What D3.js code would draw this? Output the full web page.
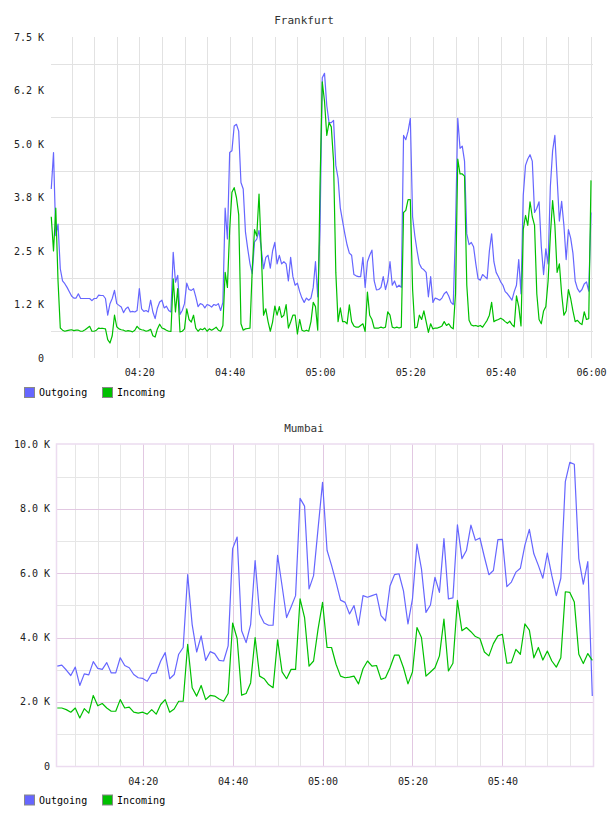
<!DOCTYPE html>
<html>
<head>
<meta charset="utf-8">
<script src="https://cdn.jsdelivr.net/npm/d3@7"></script>
<style>
	body { margin: 0; background: #fff; }
	svg text { font-family: 'DejaVu Sans Mono', monospace; }
</style>
</head>
<body>
<div id="charts"></div>
<script>
// values, one point every 30 s (Frankfurt) / 60 s (Mumbai)
let frankfurtOutgoing = [
	3950, 4800, 2860, 3130, 2085, 1800, 1735, 1650, 1550, 1450,
	1400, 1400, 1500, 1390, 1390, 1390, 1390, 1390, 1340, 1390,
	1390, 1470, 1460, 1460, 1390, 1000, 1270, 1390, 1580, 1270,
	1230, 1190, 1060, 1150, 1190, 1075, 1090, 1075, 1110, 1620,
	1150, 1090, 1110, 1075, 1350, 1075, 920, 1170, 1310, 1350,
	1170, 1210, 1110, 1075, 2470, 1770, 1930, 1020, 1110, 1270,
	1750, 1600, 1580, 1620, 1430, 1200, 1270, 1250, 1170, 1250,
	1230, 1190, 1250, 1230, 1270, 1110, 1300, 3500, 2780, 4800,
	4840, 5420, 5460, 5300, 4100, 3950, 2940, 2550, 2200, 1970,
	2710, 2780, 2980, 2550, 2085, 2350, 2400, 2100, 2500, 2700,
	2200, 2400, 2200, 2250, 2200, 1800, 2350, 1900, 1700, 1750,
	1550, 1400, 1300, 1400, 1350, 1400, 1650, 2250, 1430, 3000,
	6550, 6650, 5900, 5500, 5500, 5550, 4500, 4200, 3500, 3200,
	2900, 2640, 2450, 2400, 1950, 1920, 1900, 1900, 2350, 1650,
	2250, 2400, 2520, 1800, 1590, 1600, 1650, 1900, 1600, 1800,
	2250, 1700, 1800, 1650, 1700, 1650, 5200, 5100, 5300, 5600,
	3300, 2850, 2500, 2200, 2100, 2060, 2000, 1430, 1900, 1300,
	1400, 1380, 1350, 1400, 1500, 1550, 1450, 1300, 1250, 3000,
	5600, 4900, 4950, 4600, 2900, 2650, 2700, 2600, 2200, 1850,
	1820, 1950, 1900, 1850, 2500, 2900, 2250, 2000, 1900, 1780,
	1700, 1550, 1500, 1430, 1350, 1550, 1700, 2300, 1500, 3800,
	4500, 4650, 4750, 4600, 3400, 3500, 3650, 2600, 1950, 2550,
	2200, 4000, 4840, 5200, 4200, 3200, 3660, 3100, 2300, 3000,
	2800, 2450, 1800, 1620, 1540, 1600, 1730, 1780, 1560, 3400
]
let frankfurtIncoming = [
	3300, 2500, 3500, 1800, 700, 650, 625, 640, 650, 660,
	640, 650, 650, 625, 630, 660, 700, 740, 625, 625,
	650, 700, 690, 690, 680, 430, 350, 520, 1000, 730,
	680, 660, 650, 625, 640, 630, 610, 650, 740, 680,
	660, 650, 625, 640, 670, 520, 490, 680, 790, 700,
	680, 650, 625, 620, 1850, 1075, 1620, 610, 625, 680,
	1150, 900, 840, 1000, 700, 625, 680, 660, 700, 625,
	680, 650, 680, 720, 650, 625, 760, 2000, 1650, 3000,
	3870, 3980, 3750, 3350, 800, 650, 680, 690, 700, 2080,
	3000, 2850, 3830, 2500, 1000, 1150, 850, 625, 840, 1215,
	1000, 1200, 950, 1000, 1250, 700, 840, 1000, 1000, 560,
	900, 650, 625, 650, 625, 850, 1300, 1200, 650, 4000,
	6450, 6000, 5200, 5500, 5400, 4600, 2000, 850, 1170, 850,
	850, 800, 1240, 850, 750, 720, 720, 760, 800, 620,
	1540, 1000, 900, 700, 700, 700, 720, 700, 720, 1080,
	1000, 720, 700, 720, 700, 720, 3400, 3450, 3700, 3700,
	1600, 700, 720, 1000, 900, 1100, 850, 600, 800, 680,
	700, 700, 720, 750, 850, 760, 800, 720, 680, 1500,
	4650, 4300, 4300, 4250, 1700, 880, 770, 750, 760, 740,
	760, 720, 800, 880, 1000, 1300, 850, 880, 900, 930,
	900, 850, 810, 860, 780, 730, 1450, 1200, 750, 3000,
	3330, 3100, 3650, 3300, 3100, 1500, 900, 800, 1100, 1200,
	1800, 2860, 3680, 3100, 2000, 2200, 1500, 1000, 1100, 1600,
	1390, 1100, 850, 880, 820, 780, 1080, 900, 920, 4150
]
let mumbaiOutgoing = [
	3110, 3140, 2990, 2820, 3080, 2510, 2870, 2840, 3250, 3040,
	3010, 3220, 2900, 2900, 3370, 3130, 3060, 2850, 2750, 2730,
	2640, 2880, 2900, 3270, 3530, 2720, 2850, 3480, 3690, 5950,
	4400, 3550, 4050, 3290, 3560, 3500, 3290, 3270, 3740, 6760,
	7120, 4210, 3840, 4400, 6390, 4730, 4450, 4380, 4380, 6550,
	5600, 4620, 4950, 5300, 8320, 8080, 5510, 5920, 7380, 8820,
	6710, 6240, 5720, 5160, 5090, 4730, 4990, 4380, 5300, 5250,
	5300, 5350, 4680, 4520, 5600, 5950, 5980, 5450, 4420, 5200,
	6900, 6130, 4780, 5010, 5870, 5400, 7070, 5200, 5230, 7500,
	6450, 6700, 7490, 7020, 7090, 6500, 5950, 6080, 7040, 7050,
	5580, 5720, 6030, 6150, 6860, 7360, 6600, 6240, 5840, 6620,
	5920, 5300, 5840, 8840, 9440, 9380, 6450, 5660, 6360, 2180
]
let mumbaiIncoming = [
	1810, 1810, 1760, 1680, 1810, 1500, 1790, 1650, 2200, 1880,
	1950, 1810, 1710, 1710, 2070, 1810, 1840, 1680, 1650, 1680,
	1620, 1760, 1620, 1920, 2070, 1680, 1780, 2020, 2020, 3790,
	2440, 2180, 2510, 2070, 2200, 2180, 2090, 2020, 2260, 4450,
	3970, 2210, 2260, 2590, 4000, 2800, 2720, 2540, 2440, 3930,
	2930, 2720, 3010, 3010, 5200, 4620, 3110, 3270, 4260, 5090,
	3690, 3690, 3170, 2800, 2750, 2770, 2800, 2560, 3030, 3270,
	3110, 3130, 2700, 2750, 3060, 3450, 3450, 3060, 2560, 2930,
	4310, 4000, 2800, 2930, 3060, 3430, 4570, 2960, 3200, 5150,
	4210, 4310, 4180, 4030, 3970, 3550, 3430, 3810, 4050, 4100,
	3200, 3220, 3630, 3480, 4420, 4230, 3370, 3690, 3300, 3580,
	3270, 3080, 3370, 5420, 5400, 5100, 3480, 3190, 3500, 3290
]

let seriesNames = ['Outgoing', 'Incoming']
let seriesColors = ['#6666ff', '#00c000']

let frankfurtYTicks = [0, 1250, 2500, 3750, 5000, 6250, 7500]
let frankfurtYLabels = ['0', '1.2 K', '2.5 K', '3.8 K', '5.0 K', '6.2 K', '7.5 K']
let frankfurtGridY = [625, 1875, 3125, 4375, 5625, 6875]
let mumbaiYTicks = [0, 2000, 4000, 6000, 8000, 10000]
let mumbaiYLabels = ['0', '2.0 K', '4.0 K', '6.0 K', '8.0 K', '10.0 K']
let mumbaiGridY = [1000, 2000, 3000, 4000, 5000, 6000, 7000, 8000, 9000]

let day = new Date(2020, 0, 1)
let at = (h, m, s = 0) => new Date(2020, 0, 1, h, m, s)
let fmt = d3.timeFormat('%H:%M')

let svg = d3
	.select('#charts')
	.append('svg:svg')
	.attr('width', 608)
	.attr('height', 816)

let drawChart = c => {
	let g = svg.append('g')

	let x = d3.scaleTime().domain(c.xDomain).range(c.xRange)
	let y = d3.scaleLinear().domain(c.yDomain).range(c.yRange)

	g.append('text')
		.attr('x', 304)
		.attr('y', c.titleY)
		.attr('dy', '0.35em')
		.attr('text-anchor', 'middle')
		.attr('font-size', 11)
		.attr('fill', '#333')
		.text(c.title)

	// vertical grid every 5 minutes
	let gridTimes = d3.timeMinute.every(5).range(c.gridStart, +c.gridEnd + 1)
	g.selectAll('.vgrid')
		.data(gridTimes)
		.enter()
		.append('line')
		.attr('x1', d => Math.round(x(d)) + 0.5)
		.attr('x2', d => Math.round(x(d)) + 0.5)
		.attr('y1', c.yRange[1])
		.attr('y2', c.yRange[0])
		.attr('stroke', d => (c.major && d.getMinutes() % 20 == 0 ? c.majorColor : c.gridColor))
		.attr('stroke-width', 1)

	g.selectAll('.hgrid')
		.data(c.gridY)
		.enter()
		.append('line')
		.attr('x1', c.hx[0])
		.attr('x2', c.hx[1])
		.attr('y1', d => Math.round(y(d)) + 0.5)
		.attr('y2', d => Math.round(y(d)) + 0.5)
		.attr('stroke', d => (c.major && d % 2000 == 0 ? c.majorColor : c.gridColor))
		.attr('stroke-width', 1)

	if (c.border) {
		g.append('rect')
			.attr('x', c.border[0])
			.attr('y', c.border[1])
			.attr('width', c.border[2])
			.attr('height', c.border[3])
			.attr('fill', 'none')
			.attr('stroke', c.borderColor)
			.attr('stroke-width', 1.5)
	}

	let xAxis = d3
		.axisBottom(x)
		.tickValues(c.xTicks)
		.tickFormat(fmt)
		.tickSize(0)
		.tickPadding(c.xPad)
	let ax = g.append('g').attr('transform', `translate(0,${c.yRange[0]})`).call(xAxis)
	ax.select('.domain').remove()
	ax.selectAll('text').attr('font-size', 10).attr('fill', '#222').attr('font-family', null)

	g.selectAll('.ylab')
		.data(c.yTicks)
		.enter()
		.append('text')
		.attr('x', c.yLabelX)
		.attr('y', d => y(d))
		.attr('dy', '0.35em')
		.attr('text-anchor', 'end')
		.attr('font-size', 10)
		.attr('fill', '#222')
		.text((d, i) => c.yLabels[i])

	let line = d3
		.line()
		.x((d, i) => x(c.times[i]))
		.y(d => y(d))

	c.series.forEach((s, k) => {
		g.append('path')
			.datum(s)
			.attr('fill', 'none')
			.attr('stroke', seriesColors[k])
			.attr('stroke-width', 1.2)
			.attr('stroke-linejoin', 'round')
			.attr('d', line)
	})

	// legend
	let lx = [24.5, 102.5]
	seriesNames.forEach((name, k) => {
		g.append('rect')
			.attr('x', lx[k])
			.attr('y', c.legendY)
			.attr('width', 10)
			.attr('height', 10)
			.attr('fill', seriesColors[k])
			.attr('stroke', '#888')
			.attr('stroke-width', 1)
		g.append('text')
			.attr('x', lx[k] + 14.5)
			.attr('y', c.legendY + 5)
			.attr('dy', '0.35em')
			.attr('font-size', 10)
			.attr('fill', '#000')
			.text(name)
	})
}

let frankfurtTimes = frankfurtOutgoing.map((d, i) => new Date(+at(4, 0, 30) + i * 30000))
let mumbaiTimes = mumbaiOutgoing.map((d, i) => new Date(+at(4, 1) + i * 60000))

drawChart({
	title: 'Frankfurt',
	titleY: 20,
	xDomain: [at(4, 0), at(6, 0)],
	xRange: [49, 591],
	yDomain: [0, 7500],
	yRange: [358, 37],
	gridStart: at(4, 5),
	gridEnd: at(6, 0),
	gridY: frankfurtGridY,
	gridColor: '#e2e2e2',
	hx: [51, 593],
	xTicks: [at(4, 20), at(4, 40), at(5, 0), at(5, 20), at(5, 40), at(6, 0)],
	xPad: 11,
	yTicks: frankfurtYTicks,
	yLabels: frankfurtYLabels,
	yLabelX: 44,
	times: frankfurtTimes,
	series: [frankfurtOutgoing, frankfurtIncoming],
	legendY: 387.5
})

drawChart({
	title: 'Mumbai',
	titleY: 428,
	xDomain: [at(4, 1), at(6, 0)],
	xRange: [57.3, 592.3],
	yDomain: [0, 10000],
	yRange: [766.3, 444.3],
	gridStart: at(4, 5),
	gridEnd: at(5, 55),
	gridY: mumbaiGridY,
	gridColor: '#e6e6e6',
	major: true,
	majorColor: '#e2c8e2',
	border: [56.5, 444, 537, 322.5],
	borderColor: '#ecdcf0',
	hx: [57, 593],
	xTicks: [at(4, 20), at(4, 40), at(5, 0), at(5, 20), at(5, 40)],
	xPad: 12,
	yTicks: mumbaiYTicks,
	yLabels: mumbaiYLabels,
	yLabelX: 50,
	times: mumbaiTimes,
	series: [mumbaiOutgoing, mumbaiIncoming],
	legendY: 795
})
</script>
</body>
</html>
